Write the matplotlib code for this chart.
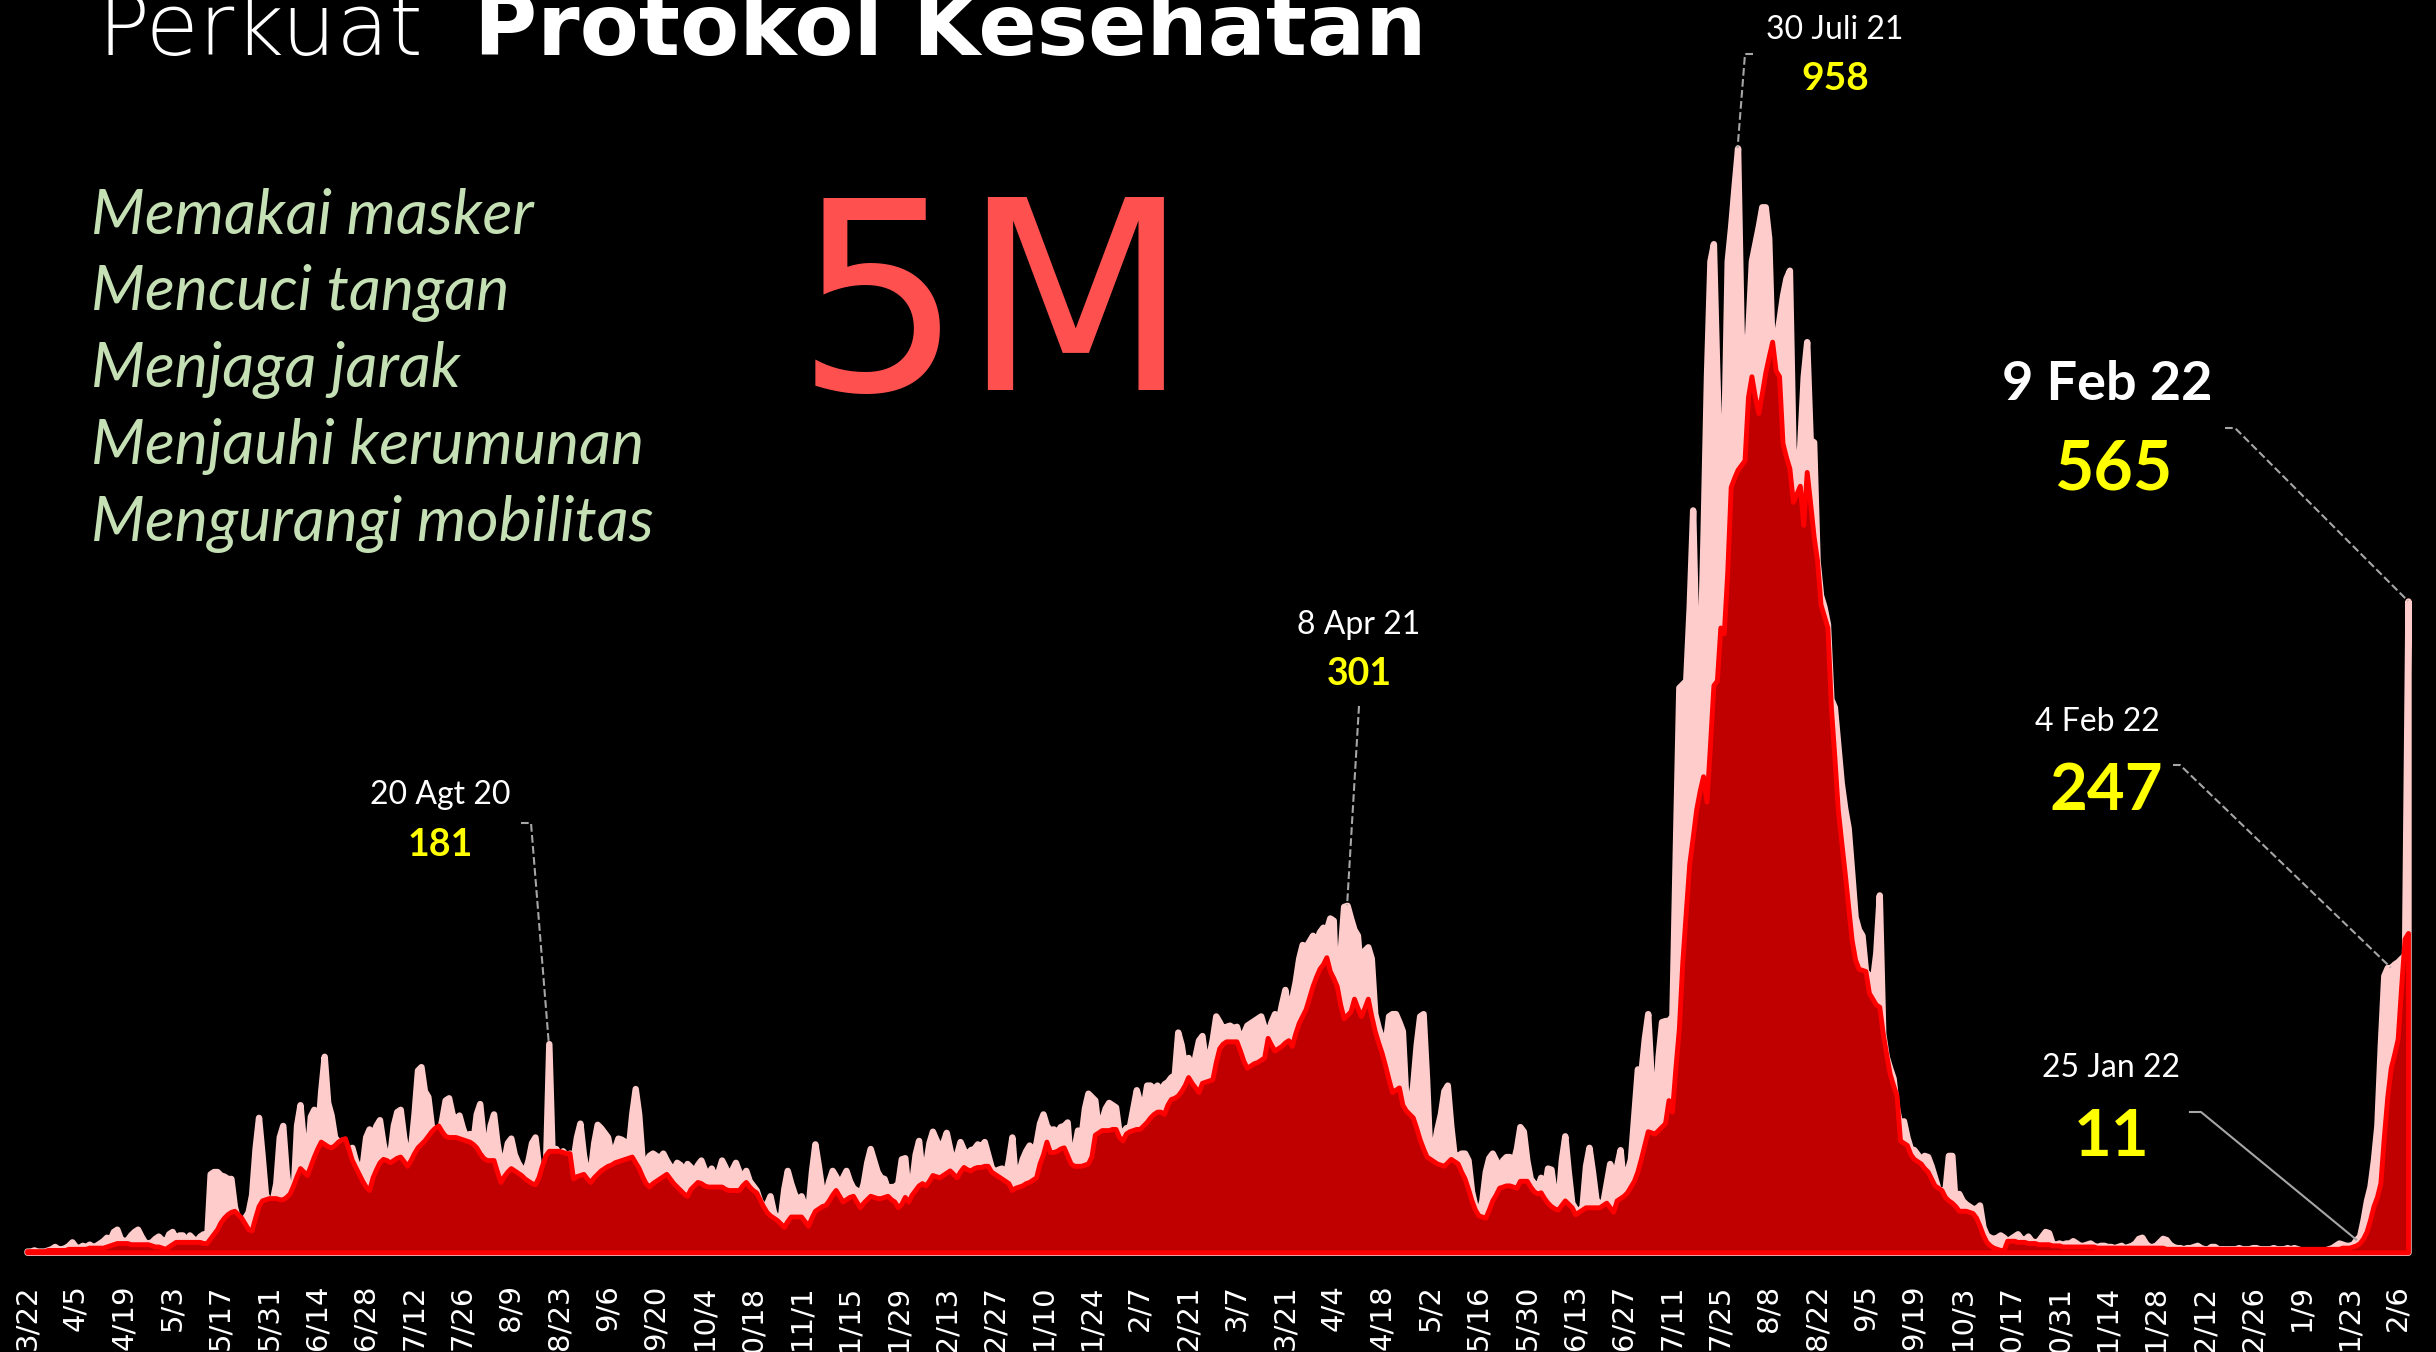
import pandas as pd
import matplotlib.pyplot as plt
import matplotlib.dates as mdates
from matplotlib.lines import Line2D

start = '2020-03-22'

# daily values (pink), one per day from 22 Mar 2020
daily_2020 = [
    1, 1, 2, 1, 1, 1, 2, 3, 5, 3,  # Mar
    3, 4, 6, 9, 5, 4, 6, 5, 7, 5, 6, 8, 10, 13, 11, 18, 20, 12, 10, 11,
    15, 18, 20, 14, 9, 8, 9, 12, 14, 11,  # Apr
    9, 16, 18, 12, 15, 15, 10, 15, 12, 10, 14, 16, 12, 68, 70, 70, 67, 66, 64, 64,
    40, 28, 25, 30, 35, 50, 90, 117, 85, 50, 45,  # May
    45, 60, 100, 110, 70, 48, 50, 110, 128, 95, 80, 118, 124, 100, 140, 170, 130, 119, 100, 96,
    97, 90, 88, 91, 80, 73, 75, 100, 107, 102,  # Jun
    110, 115, 95, 80, 85, 110, 122, 124, 100, 83, 90, 120, 158, 161, 140, 135, 110, 97, 100, 115,
    132, 134, 120, 115, 119, 108, 100, 103, 95, 120, 129,  # Jul
    100, 86, 110, 120, 95, 77, 80, 95, 99, 85, 78, 73, 70, 80, 95, 100, 75, 68, 70, 181,
    80, 90, 85, 88, 84, 86, 80, 100, 112, 85, 68,  # Aug
    70, 95, 111, 108, 104, 100, 85, 90, 99, 98, 96, 90, 120, 142, 120, 80, 78, 84, 86, 84,
    82, 86, 80, 75, 72, 78, 76, 70, 77, 74,  # Sep
    70, 76, 80, 72, 68, 73, 65, 70, 80, 74, 66, 72, 78, 70, 65, 71, 62, 58, 54, 45,
    40, 42, 49, 35, 29, 30, 55, 71, 60, 51, 45,  # Oct
    49, 40, 38, 70, 94, 75, 54, 50, 62, 71, 66, 60, 65, 71, 62, 56, 54, 50, 60, 78,
    90, 80, 70, 65, 64, 55, 57, 57, 60, 81,  # Nov
    82, 51, 60, 85, 97, 68, 75, 95, 105, 98, 91, 95, 104, 90, 77, 85, 96, 89, 85, 89,
    90, 94, 92, 96, 85, 74, 70, 72, 73, 65, 80,  # Dec
]
daily_2021 = [
    100, 62, 70, 81, 88, 93, 86, 95, 112, 120, 110, 106, 107, 104, 109, 110, 113, 74, 90, 106,
    100, 125, 138, 135, 132, 106, 115, 125, 130, 128, 126,  # Jan
    104, 104, 108, 109, 125, 141, 130, 126, 145, 145, 142, 145, 140, 146, 148, 152, 154, 191, 180, 160,
    169, 154, 170, 184, 188, 165, 170, 185,  # Feb
    205, 200, 194, 196, 197, 195, 196, 185, 190, 197, 199, 201, 203, 205, 195, 190, 200, 207, 200, 215,
    228, 207, 220, 235, 255, 267, 265, 270, 275, 270, 278,  # Mar
    282, 280, 290, 288, 207, 260, 300, 301, 290, 280, 275, 237, 262, 265, 255, 207, 195, 186, 180, 205,
    207, 207, 200, 192, 132, 125, 145, 180, 205, 207,  # Apr
    150, 79, 90, 107, 120, 140, 145, 110, 83, 84, 86, 86, 80, 53, 40, 34, 45, 70, 82, 86,
    80, 73, 80, 83, 83, 78, 90, 109, 105, 80, 64,  # May
    60, 56, 65, 54, 73, 72, 50, 43, 80, 101, 70, 43, 38, 35, 40, 75, 91, 70, 46, 42,
    43, 60, 77, 66, 75, 89, 58, 70, 81, 120,  # Jun
    159, 155, 185, 207, 150, 116, 170, 200, 201, 201, 205, 350, 490, 493, 496, 560, 644, 520, 496, 620,
    760, 860, 875, 760, 655, 700, 860, 890, 925, 958, 800,  # Jul
    740, 800, 860, 875, 890, 907, 907, 880, 780, 790, 809, 830, 845, 852, 700, 650, 700, 760, 790, 705,
    703, 600, 570, 560, 545, 480, 473, 440, 407, 385, 368,  # Aug
    330, 291, 280, 275, 244, 240, 235, 260, 310, 190, 170, 160, 151, 125, 110, 114, 100, 90, 89, 85,
    81, 84, 83, 75, 65, 55, 54, 53, 84, 84,  # Sep
    40, 51, 45, 42, 40, 38, 38, 41, 22, 15, 13, 12, 13, 15, 13, 10, 12, 14, 16, 12,
    11, 14, 10, 9, 10, 14, 18, 17, 8, 7, 8,  # Oct
    7, 8, 8, 10, 8, 6, 6, 7, 8, 6, 5, 6, 6, 5, 5, 4, 5, 6, 4, 5,
    6, 8, 12, 13, 8, 5, 5, 6, 9, 12,  # Nov
    11, 7, 5, 4, 4, 3, 4, 4, 5, 6, 4, 3, 3, 5, 5, 3, 3, 3, 3, 3,
    3, 4, 3, 3, 3, 4, 4, 3, 3, 3, 3,  # Dec
]
daily_2022 = [
    4, 3, 3, 3, 4, 3, 4, 3, 2, 2, 2, 2, 2, 2, 2, 2, 3, 4, 6, 8,
    7, 6, 6, 7, 11, 14, 28, 45, 57, 80, 110,  # Jan
    180, 240, 247, 247, 250, 252, 255, 258, 565,  # Feb
]

# averaged series (red area)
avg_2020 = [
    1, 1, 1, 1, 1, 1, 2, 2, 2, 2,
    2, 2, 3, 3, 3, 3, 3, 3, 4, 4, 4, 4, 4, 5, 6, 7, 8, 8, 8, 8,
    7, 7, 7, 7, 7, 7, 6, 5, 5, 4,
    3, 5, 7, 9, 9, 9, 9, 9, 9, 9, 9, 8, 8, 12, 16, 20, 26, 30, 33, 35,
    36, 33, 30, 25, 20, 19, 30, 40, 45, 46, 47,
    47, 47, 46, 46, 48, 51, 58, 66, 73, 70, 67, 75, 83, 90, 96, 94, 92, 91, 93, 96,
    98, 99, 90, 80, 74, 68, 62, 57, 54, 65,
    72, 78, 81, 80, 78, 80, 82, 83, 79, 75, 80, 86, 91, 94, 97, 101, 105, 108, 110, 105,
    101, 100, 100, 100, 99, 98, 97, 96, 94, 91, 86,
    82, 80, 80, 80, 70, 61, 66, 70, 73, 71, 69, 67, 64, 62, 60, 59, 65, 75, 84, 88,
    88, 88, 88, 87, 86, 86, 64, 66, 67, 68, 64,
    61, 65, 68, 71, 73, 75, 76, 78, 79, 80, 81, 82, 83, 78, 73, 66, 60, 57, 60, 62,
    64, 66, 68, 64, 60, 57, 54, 51, 49, 55,
    58, 61, 60, 58, 57, 57, 57, 57, 57, 55, 54, 54, 54, 54, 58, 61, 57, 54, 52, 46,
    40, 35, 32, 30, 28, 25, 22, 27, 31, 31, 31,
    31, 27, 23, 30, 36, 38, 40, 41, 45, 50, 54, 49, 44, 46, 48, 49, 44, 39, 43, 46,
    49, 48, 47, 47, 48, 49, 46, 44, 39, 42,
    48, 44, 50, 54, 58, 60, 58, 62, 67, 66, 65, 67, 69, 71, 68, 65, 70, 74, 72, 71,
    73, 74, 74, 75, 75, 70, 68, 66, 64, 62, 60,
]
avg_2021 = [
    54, 56, 57, 58, 60, 61, 63, 65, 77, 85, 96, 87, 87, 88, 90, 91, 84, 77, 75, 75,
    75, 76, 77, 83, 102, 104, 106, 106, 106, 107, 107,
    100, 97, 103, 105, 106, 107, 107, 110, 113, 117, 120, 122, 122, 120, 128, 133, 134, 136, 140, 145,
    152, 147, 143, 139, 147, 148, 149, 150,
    165, 177, 181, 183, 183, 183, 183, 175, 166, 160, 162, 164, 165, 167, 169, 186, 180, 175, 177, 179,
    182, 184, 179, 190, 199, 205, 211, 221, 231, 239, 246,
    250, 256, 244, 238, 231, 215, 203, 206, 209, 220, 212, 205, 212, 220, 205, 192, 182, 173, 162, 150,
    139, 141, 143, 128, 123, 120, 117, 108, 98, 90,
    83, 81, 79, 77, 76, 75, 78, 81, 79, 77, 70, 64, 55, 45, 37, 32, 31, 30, 37, 45,
    50, 56, 57, 58, 58, 57, 56, 62, 62, 62, 57,
    53, 51, 52, 47, 43, 40, 38, 37, 41, 45, 42, 39, 33, 35, 37, 39, 39, 39, 39, 39,
    41, 43, 39, 35, 45, 47, 49, 52, 57, 62,
    70, 81, 93, 105, 104, 103, 106, 109, 112, 132, 122, 160, 194, 252, 295, 337, 360, 384, 400, 413,
    391, 440, 492, 496, 542, 537, 590, 664, 672, 679, 683,
    687, 742, 760, 742, 728, 745, 763, 777, 790, 765, 760, 702, 690, 680, 651, 658, 665, 631, 677, 650,
    621, 600, 562, 552, 542, 473, 430, 384, 356, 329, 300,
    271, 254, 246, 245, 244, 225, 220, 215, 213, 190, 172, 155, 145, 136, 97, 95, 93, 85, 81, 79,
    77, 73, 70, 64, 58, 56, 54, 48, 45, 43,
    40, 36, 36, 36, 35, 34, 30, 23, 15, 9, 6, 4, 3, 2, 2, 10, 10, 10, 9, 9,
    9, 8, 8, 8, 7, 7, 7, 7, 6, 6, 6,
    5, 5, 5, 5, 5, 5, 5, 5, 5, 5, 4, 4, 4, 4, 4, 4, 4, 4, 4, 4,
    4, 4, 4, 4, 4, 4, 4, 4, 4, 4,
    3, 3, 3, 3, 3, 3, 3, 3, 3, 3, 3, 3, 3, 3, 3, 3, 3, 3, 3, 3,
    3, 3, 3, 3, 3, 3, 3, 3, 3, 3, 3,
]
avg_2022 = [
    3, 3, 3, 3, 3, 3, 3, 3, 3, 3, 3, 3, 3, 3, 3, 3, 3, 3, 3, 3,
    4, 4, 4, 5, 6, 8, 12, 18, 28, 40, 48,
    60, 100, 135, 160, 172, 185, 230, 272, 277,
]

tick_labels = ['3/22', '4/5', '4/19', '5/3', '5/17', '5/31', '6/14', '6/28', '7/12', '7/26',
               '8/9', '8/23', '9/6', '9/20', '10/4', '10/18', '11/1', '11/15', '11/29', '12/13',
               '12/27', '1/10', '1/24', '2/7', '2/21', '3/7', '3/21', '4/4', '4/18', '5/2',
               '5/16', '5/30', '6/13', '6/27', '7/11', '7/25', '8/8', '8/22', '9/5', '9/19',
               '10/3', '10/17', '10/31', '11/14', '11/28', '12/12', '12/26', '1/9', '1/23', '2/6']

note_dates = ['2020-08-20', '2021-04-08', '2021-07-30', '2022-01-25', '2022-02-04', '2022-02-09']
note_titles = ['20 Agt 20', '8 Apr 21', '30 Juli 21', '25 Jan 22', '4 Feb 22', '9 Feb 22']

tips = ['Memakai masker', 'Mencuci tangan', 'Menjaga jarak', 'Menjauhi kerumunan', 'Mengurangi mobilitas']

daily = pd.Series(daily_2020 + daily_2021 + daily_2022,
                  index=pd.date_range(start, periods=len(daily_2020 + daily_2021 + daily_2022), freq='D'))
avg = pd.Series(avg_2020 + avg_2021 + avg_2022, index=daily.index)

W, H = 2436, 1352
fig = plt.figure(figsize=(W / 100, H / 100), dpi=100, facecolor='black')
ax = fig.add_axes([20 / W, 1 - 1258 / H, 2396 / W, (1258 - 99.6) / H])
ax.set_facecolor('black')

ax.fill_between(daily.index, daily.values, facecolor='#FFCCCC', edgecolor='#FFCCCC',
                linewidth=4.6, joinstyle='round', zorder=2)
ax.fill_between(avg.index, avg.values, facecolor='#C00000', edgecolor='#FF0000',
                linewidth=3.5, joinstyle='round', zorder=3)

x0 = mdates.date2num(daily.index[0]) - 7 / 3.456
x1 = mdates.date2num(daily.index[-1]) + 8 / 3.456
ax.set_xlim(x0, x1)
ax.set_ylim(-5, 1000)

ticks = pd.date_range(start, periods=len(tick_labels), freq='14D')
ax.set_xticks(ticks)
ax.set_xticklabels(tick_labels, rotation=90, color='white', fontsize=21, fontfamily='DejaVu Sans')
ax.tick_params(axis='x', length=0, pad=19)
ax.set_yticks([])
for s in ax.spines.values():
    s.set_visible(False)


def fpos(x, y):
    return x / W, 1 - y / H


# title (cut at the top edge like the original)
fig.text(*fpos(97, 55), 'Perkuat', fontsize=62, color='white', family='DejaVu Sans',
         weight='light', va='baseline', ha='left')
fig.text(*fpos(474, 55), 'Protokol Kesehatan', fontsize=62, color='white', family='DejaVu Sans',
         weight='bold', va='baseline', ha='left')

for i, t in enumerate(tips):
    fig.text(*fpos(91, 233 + i * 77), t, fontsize=45, style='italic', family='Lato',
             color='#C5E0B4', va='baseline', ha='left')

fig.text(*fpos(795, 390), '5M', fontsize=190, color='#FF5050', family='DejaVu Sans',
         va='baseline', ha='left')

# annotation layout: title centre, value centre, sizes, leader hook, line style
layout = [
    ((440, 795), (440, 845), 23, 'normal', 27, (521, 531, 823), '--'),
    ((1359, 625), (1359, 674), 23, 'normal', 27, (1359, 1359, 706), '--'),
    ((1835, 30), (1835, 79), 23, 'normal', 28, (1753, 1745, 54), '--'),
    ((2111, 1068), (2112, 1138), 23, 'normal', 47, (2190, 2201, 1112), '-'),
    ((2097, 722), (2106, 791), 23, 'normal', 47, (2173, 2180, 765), '--'),
    ((2107, 384), (2113, 470), 39, 'bold', 49, (2225, 2235, 428), '--'),
]

to_fig = fig.transFigure.inverted()
for d, title, lay in zip(note_dates, note_titles, layout):
    (tx, ty), (vx, vy), tsize, tweight, vsize, (hx0, hx1, hy), ls = lay
    val = daily[pd.Timestamp(d)]
    fig.text(*fpos(tx, ty), title, fontsize=tsize, weight=tweight, family='Lato',
             color='white', ha='center', va='center')
    fig.text(*fpos(vx, vy), str(val), fontsize=vsize, weight='bold', family='Lato',
             color='#FFFF00', ha='center', va='center')
    px, py = to_fig.transform(ax.transData.transform((mdates.date2num(pd.Timestamp(d)), val)))
    a = fpos(hx0, hy)
    b = fpos(hx1, hy)
    fig.add_artist(Line2D([a[0], b[0], px], [a[1], b[1], py], transform=fig.transFigure,
                          color='#A6A6A6', linewidth=1.5, linestyle=ls, zorder=5))

fig.savefig('out.png', dpi=100, facecolor='black')
